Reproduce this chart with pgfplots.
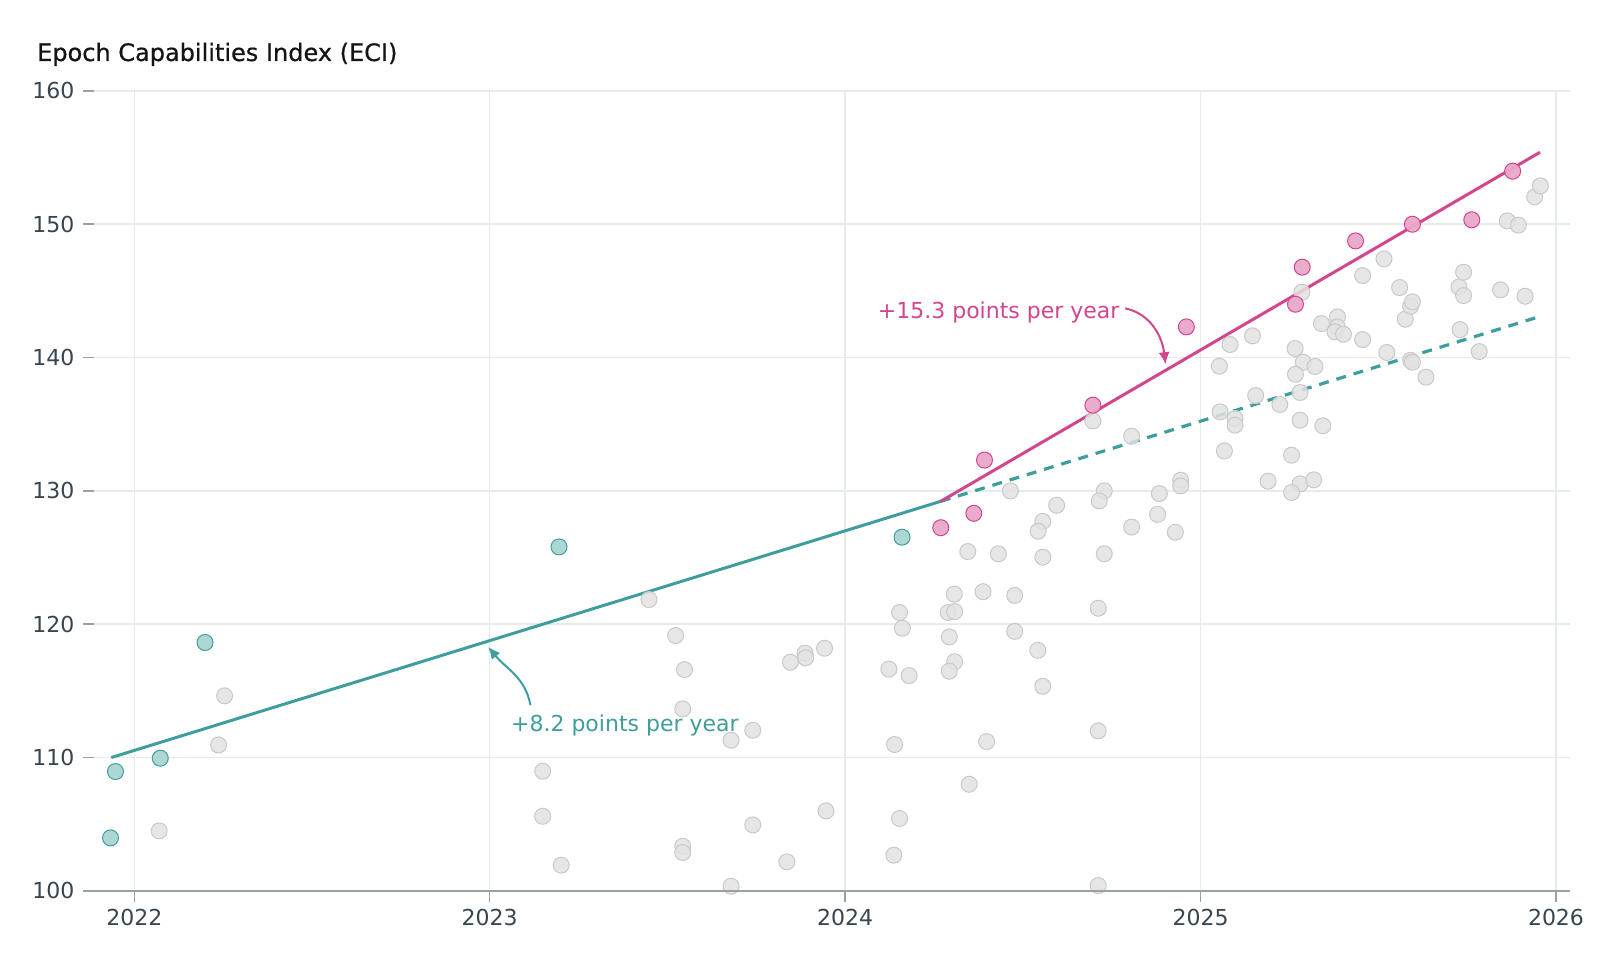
\documentclass[border=0pt]{standalone}
\usepackage{fontspec}
\setmainfont{DejaVu Sans}
\usepackage{pgfplots}
\pgfplotsset{compat=1.18}
\usetikzlibrary{arrows.meta}
\definecolor{teal1}{HTML}{3F9E9D}
\definecolor{tealfill}{HTML}{A8D5D3}
\definecolor{pink1}{HTML}{D1468C}
\definecolor{pinkfill}{HTML}{E8A8CA}
\definecolor{grayfill}{HTML}{E2E2E2}
\definecolor{grayedge}{HTML}{C9C9C9}
\definecolor{gridc}{HTML}{E4ECEC}
\definecolor{axisc}{HTML}{97A2A7}
\definecolor{tickc}{HTML}{36454F}

\pgfplotstableread{
x y
2022.070 104.50
2022.237 110.95
2022.254 114.63
2023.149 108.98
2023.149 105.60
2023.201 101.93
2023.448 121.85
2023.523 119.15
2023.548 116.60
2023.543 113.65
2023.543 103.35
2023.543 102.88
2023.679 111.30
2023.740 112.05
2023.679 100.35
2023.740 104.95
2023.836 102.18
2023.846 117.15
2023.887 117.83
2023.889 117.48
2023.942 118.20
2023.946 106.00
2024.153 120.88
2024.161 119.70
2024.123 116.63
2024.180 116.15
2024.139 110.98
2024.153 105.43
2024.137 102.68
2024.345 125.45
2024.431 125.28
2024.465 130.00
2024.307 122.26
2024.388 122.44
2024.477 122.16
2024.290 120.88
2024.308 120.95
2024.293 119.05
2024.477 119.47
2024.308 117.19
2024.293 116.48
2024.398 111.20
2024.349 108.00
2024.595 128.92
2024.556 127.71
2024.543 126.98
2024.556 125.03
2024.542 118.04
2024.556 115.35
2024.697 135.25
2024.729 130.00
2024.715 129.25
2024.729 125.28
2024.712 121.20
2024.712 112.00
2024.712 100.40
2024.806 134.10
2024.806 127.29
2024.884 129.80
2024.879 128.24
2024.929 126.90
2024.944 130.80
2024.944 130.38
2025.083 140.98
2025.146 141.63
2025.053 139.35
2025.055 135.93
2025.097 135.43
2025.097 134.93
2025.067 133.00
2025.266 140.68
2025.289 139.65
2025.322 139.33
2025.267 138.75
2025.280 137.38
2025.155 137.15
2025.223 136.48
2025.280 135.30
2025.344 134.88
2025.256 132.68
2025.190 130.73
2025.280 130.53
2025.318 130.83
2025.256 129.88
2025.285 144.90
2025.340 142.55
2025.385 143.05
2025.385 142.30
2025.378 141.93
2025.402 141.75
2025.456 141.35
2025.456 146.15
2025.516 147.40
2025.524 140.38
2025.560 145.25
2025.576 142.88
2025.591 143.85
2025.596 144.18
2025.591 139.80
2025.596 139.65
2025.634 138.53
2025.727 145.30
2025.740 146.40
2025.740 144.65
2025.730 142.10
2025.784 140.45
2025.844 145.08
2025.863 150.25
2025.894 149.93
2025.913 144.60
2025.940 152.05
2025.956 152.88
}\graydata

\pgfplotstableread{
x y
2021.933 103.98
2021.947 108.95
2022.073 109.95
2022.199 118.63
2023.195 125.80
2024.160 126.53
}\tealdata

\pgfplotstableread{
x y
2024.269 127.24
2024.362 128.32
2024.392 132.31
2024.697 136.43
2024.960 142.30
2025.267 144.00
2025.286 146.78
2025.436 148.75
2025.596 150.00
2025.763 150.33
2025.878 153.98
}\pinkdata

\begin{document}
\begin{tikzpicture}
\path[use as bounding box] (0,0) rectangle (810pt,480pt);
\node[anchor=base west, inner sep=0pt, font=\fontsize{12}{14}\selectfont\addfontfeature{FakeBold=0.6}, text=black!92] at (18.4pt,449.5pt) {Epoch Capabilities Index (ECI)};
\begin{axis}[
  at={(46.9pt,34.55pt)}, anchor=south west,
  scale only axis, width=738.2pt, height=400pt,
  xmin=2021.886, xmax=2026.04, ymin=100, ymax=160,
  xtick={2022,2023,2024,2025,2026},
  xticklabels={2022,2023,2024,2025,2026},
  ytick={100,110,120,130,140,150,160},
  yticklabels={100,110,120,130,140,150,160},
  axis line style={draw=none},
  grid=major, major grid style={gridc, line width=0.75pt},
  tick pos=left, tick align=outside, major tick length=5.6pt,
  tick style={axisc, line width=0.75pt},
  ticklabel style={font=\fontsize{11}{13}\selectfont, text=tickc, inner sep=0pt},
  yticklabel style={anchor=east, xshift=-3.95pt},
  xticklabel style={anchor=north, yshift=-3.45pt},
  clip=true,
]
\addplot[only marks, mark=*, mark size=4pt, mark options={fill=grayfill, draw=grayedge, line width=0.5pt, fill opacity=0.85}] table {\graydata};
\addplot[teal1, line width=1.5pt] coordinates {(2021.935,110) (2024.269,129.22)};
\addplot[teal1, line width=1.6pt, dash pattern=on 5pt off 4pt] coordinates {(2024.269,129.22) (2025.957,143.1)};
\addplot[pink1, line width=1.5pt] coordinates {(2024.269,129.22) (2025.955,155.4)};
\addplot[only marks, mark=*, mark size=4pt, mark options={fill=tealfill, draw=teal1, line width=0.5pt, fill opacity=0.95}] table {\tealdata};
\addplot[only marks, mark=*, mark size=4pt, mark options={fill=pinkfill, draw=pink1, line width=0.5pt, fill opacity=0.95}] table {\pinkdata};
\node[anchor=base west, inner sep=0pt, text=pink1, font=\fontsize{11}{13}\selectfont] at (axis cs:2024.091,142.94) {+15.3 points per year};
\draw[pink1, line width=1pt, -{Latex[length=6pt,width=5.5pt]}] (axis cs:2024.788,143.69) to[out=-12, in=97] (axis cs:2024.9015,139.5);
\node[anchor=base west, inner sep=0pt, text=teal1, font=\fontsize{11}{13}\selectfont] at (axis cs:2023.059,111.99) {+8.2 points per year};
\draw[teal1, line width=1pt, -{Latex[length=6pt,width=5.5pt]}] (axis cs:2023.1145,113.93) to[out=100, in=-51] (axis cs:2022.996,118.3);
\coordinate (bl) at (rel axis cs:0,0);
\coordinate (br) at (rel axis cs:1,0);
\end{axis}
\draw[axisc, line width=1.25pt] ([xshift=-5.6pt]bl) -- (br);
\end{tikzpicture}
\end{document}
